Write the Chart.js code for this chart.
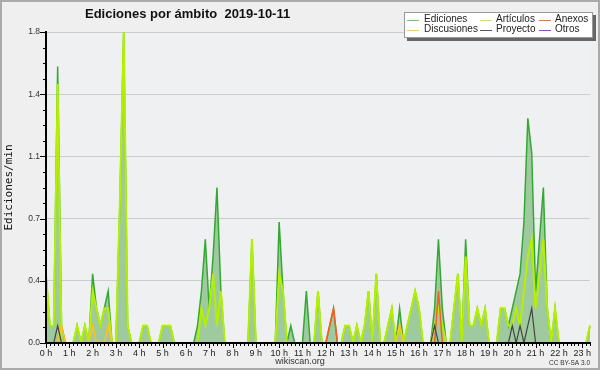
<!DOCTYPE html>
<html>
<head>
<meta charset="utf-8">
<script src="https://cdn.jsdelivr.net/npm/chart.js@4.4.1/dist/chart.umd.min.js"></script>
<style>
  html, body { margin: 0; padding: 0; background: #efefef; }
  #wrap { width: 600px; height: 370px; }
</style>
</head>
<body>
<div id="wrap"><canvas id="chart" width="600" height="370"></canvas></div>
<script>
// ========== DATA ==========
// one slot every 10 minutes, 00:00 .. 23:20
const SLOTS = Array.from({ length: 141 }, (_, i) => i * 10);

// edits per minute (10-minute buckets)
const EDICIONES = [
  0.4, 0.1, 0.1, 1.6, 0.1, 0, 0, 0, 0.1, 0,
  0.1, 0, 0.4, 0.2, 0.1, 0.2, 0.3, 0, 0, 0.8,
  1.8, 0.1, 0, 0, 0, 0.1, 0.1, 0, 0, 0,
  0.1, 0.1, 0.1, 0, 0, 0, 0, 0, 0, 0.1,
  0.3, 0.6, 0.2, 0.5, 0.9, 0.3, 0, 0, 0, 0,
  0, 0, 0, 0.6, 0, 0, 0, 0, 0, 0,
  0.7, 0.3, 0, 0.1, 0, 0, 0, 0.3, 0, 0,
  0.3, 0, 0, 0.1, 0.2, 0, 0, 0.1, 0.1, 0,
  0.1, 0, 0.1, 0.3, 0, 0.4, 0, 0, 0.1, 0.2,
  0, 0.2, 0, 0.1, 0.2, 0.3, 0.2, 0, 0, 0,
  0.2, 0.6, 0.2, 0, 0, 0.2, 0.4, 0, 0.6, 0.1,
  0.1, 0.2, 0.1, 0.2, 0, 0, 0, 0.2, 0.2, 0.1,
  0.2, 0.3, 0.4, 0.7, 1.3, 1.1, 0.3, 0.6, 0.9, 0.2,
  0, 0.2, 0, 0, 0, 0, 0, 0, 0, 0,
  0.1
];

const ARTICULOS = [
  0.4, 0.1, 0.1, 1.5, 0, 0, 0, 0, 0.1, 0,
  0.1, 0, 0.3, 0.2, 0.1, 0.2, 0.2, 0, 0, 0.8,
  1.8, 0.1, 0, 0, 0, 0.1, 0.1, 0, 0, 0,
  0.1, 0.1, 0.1, 0, 0, 0, 0, 0, 0, 0,
  0.2, 0.1, 0.2, 0.4, 0.1, 0.3, 0, 0, 0, 0,
  0, 0, 0, 0.6, 0, 0, 0, 0, 0, 0,
  0.4, 0.3, 0, 0, 0, 0, 0, 0, 0, 0,
  0.3, 0, 0, 0, 0, 0, 0, 0.1, 0.1, 0,
  0.1, 0, 0.1, 0.3, 0, 0.4, 0, 0, 0.1, 0.2,
  0, 0.1, 0, 0.1, 0.2, 0.3, 0.2, 0, 0, 0,
  0.1, 0.2, 0.1, 0, 0, 0.2, 0.4, 0, 0.5, 0.1,
  0.1, 0.2, 0.1, 0.2, 0, 0, 0, 0.2, 0.2, 0.1,
  0.1, 0.2, 0.1, 0.3, 0.5, 0.6, 0.2, 0.4, 0.6, 0.2,
  0, 0.2, 0, 0, 0, 0, 0, 0, 0, 0,
  0.1
];

// sparse series: [slot index, value]
const DISCUSIONES = [[4, 0.1], [12, 0.1], [16, 0.1], [91, 0.1]];
const ANEXOS = [[73, 0.1], [74, 0.2], [101, 0.3]];
const PROYECTO = [[3, 0.1], [100, 0.1], [120, 0.1], [122, 0.1], [124, 0.1], [125, 0.2]];
const OTROS = [];

const Y_MAX = 1.8;
const Y_STEP = 0.09;   // minor step, labels every 4th

const LEGEND = [
  { label: 'Ediciones',   color: '#66cc66' },
  { label: 'Artículos',   color: '#c4f23a' },
  { label: 'Anexos',      color: '#ff6f3a' },
  { label: 'Discusiones', color: '#ffcc33' },
  { label: 'Proyecto',    color: '#555555' },
  { label: 'Otros',       color: '#9a3dff' },
];

// ========== HELPERS ==========

function expand(pairs) {
  const out = SLOTS.map(() => 0);
  pairs.forEach(([i, v]) => { out[i] = v; });
  return out;
}

function lineSet(label, data, color, width, order, extra) {
  return Object.assign({
    label, data,
    borderColor: color,
    borderWidth: width,
    pointRadius: 0,
    tension: 0,
    fill: false,
    order,
  }, extra || {});
}

// ========== PLUGINS ==========

const decorations = {
  id: 'decorations',
  beforeDraw(chart) {
    const { ctx, chartArea: a } = chart;
    ctx.save();
    ctx.fillStyle = '#efefef';
    ctx.fillRect(0, 0, chart.width, chart.height);
    ctx.fillStyle = '#eff0f2';
    ctx.fillRect(a.left, a.top, a.right - a.left, a.bottom - a.top);
    ctx.restore();
  },
  afterDraw(chart) {
    const { ctx, chartArea: a, scales: { x, y } } = chart;
    ctx.save();

    // tick marks
    ctx.strokeStyle = '#000';
    ctx.lineWidth = 1;
    ctx.beginPath();
    x.ticks.forEach((t, i) => {
      const px = Math.round(x.getPixelForTick(i)) + 0.5;
      const len = i % 6 === 0 ? 5 : 3;
      ctx.moveTo(px, a.bottom); ctx.lineTo(px, a.bottom + len);
    });
    y.ticks.forEach((t, i) => {
      const py = Math.round(y.getPixelForTick(i)) + 0.5;
      const len = i % 4 === 0 ? 6 : 3;
      ctx.moveTo(a.left - len, py); ctx.lineTo(a.left, py);
    });
    ctx.stroke();

    // title
    ctx.fillStyle = '#111';
    ctx.font = 'bold 13px "Liberation Sans", Arial, sans-serif';
    ctx.textBaseline = 'middle';
    ctx.textAlign = 'left';
    ctx.fillText('Ediciones por ámbito  2019-10-11', 85, 14);

    // footer
    ctx.fillStyle = '#333';
    ctx.font = '9px "Liberation Sans", Arial, sans-serif';
    ctx.textAlign = 'center';
    ctx.fillText('wikiscan.org', 300, 362);
    ctx.font = '6.5px "Liberation Sans", Arial, sans-serif';
    ctx.textAlign = 'right';
    ctx.fillText('CC BY-SA 3.0', 590, 363);

    // legend box with shadow
    const bx = 404, by = 12, bw = 189, bh = 26;
    ctx.fillStyle = '#666';
    ctx.fillRect(bx + 3, by + 3, bw, bh);
    ctx.fillStyle = '#fff';
    ctx.fillRect(bx, by, bw, bh);
    ctx.strokeStyle = '#999';
    ctx.strokeRect(bx + 0.5, by + 0.5, bw - 1, bh - 1);

    const cols = [[407, 424], [480, 496], [539, 555]];
    const rows = [19.5, 29.5];
    ctx.font = '10px "Liberation Sans", Arial, sans-serif';
    ctx.textAlign = 'left';
    LEGEND.forEach((item, k) => {
      const [sx, tx] = cols[k % 3];
      const ry = rows[Math.floor(k / 3)];
      ctx.strokeStyle = item.color;
      ctx.beginPath();
      ctx.moveTo(sx, Math.round(ry) + 0.5); ctx.lineTo(sx + 12, Math.round(ry) + 0.5);
      ctx.stroke();
      ctx.fillStyle = '#222';
      ctx.fillText(item.label, tx, ry);
    });

    // outer frame
    ctx.strokeStyle = '#aaa';
    ctx.lineWidth = 2;
    ctx.strokeRect(1, 1, chart.width - 2, chart.height - 2);
    ctx.restore();
  }
};

// ========== CHART ==========

new Chart(document.getElementById('chart'), {
  type: 'line',
  data: {
    labels: SLOTS,
    datasets: [
      lineSet('Otros', expand(OTROS), '#9a3dff', 1.2, 0),
      lineSet('Proyecto', expand(PROYECTO), '#444', 1.2, 1),
      lineSet('Anexos', expand(ANEXOS), '#ff5a1f', 1.5, 2),
      lineSet('Discusiones', expand(DISCUSIONES), '#ffc21a', 1.5, 3),
      lineSet('Artículos', ARTICULOS, '#b4f000', 2, 4),
      lineSet('Ediciones', EDICIONES, '#33a833', 1.5, 5, {
        fill: 'origin',
        backgroundColor: '#9fca9f',
      }),
    ]
  },
  options: {
    responsive: false,
    devicePixelRatio: 1,
    animation: false,
    events: [],
    layout: { padding: { left: 0, top: 32, right: 10, bottom: 0 } },
    plugins: {
      legend: { display: false },
      tooltip: { enabled: false },
      title: { display: false },
    },
    scales: {
      x: {
        type: 'category',
        offset: false,
        border: { color: '#000', width: 2, z: 1 },
        grid: { drawOnChartArea: false, drawTicks: false },
        afterFit: s => { s.height = 27; },
        ticks: {
          autoSkip: false,
          maxRotation: 0,
          padding: 5,
          color: '#222',
          font: { family: '"Liberation Sans", Arial, sans-serif', size: 9 },
          callback: (v, i) => (i % 6 === 0 ? (i / 6) + ' h' : ''),
        },
      },
      y: {
        min: 0,
        max: Y_MAX,
        border: { color: '#000', width: 2, z: 1 },
        grid: {
          drawTicks: false,
          color: ctx => (ctx.index % 4 === 0 && ctx.index > 0 ? '#cccccc' : 'rgba(0,0,0,0)'),
        },
        afterFit: s => { s.width = 46; },
        title: {
          display: true,
          text: 'Ediciones/min',
          color: '#111',
          padding: 3,
          font: { family: '"DejaVu Sans Mono", monospace', size: 11 },
        },
        ticks: {
          stepSize: Y_STEP,
          includeBounds: false,
          autoSkip: false,
          padding: 6,
          color: '#333',
          font: { family: '"Liberation Sans", Arial, sans-serif', size: 8.5 },
          callback: (v, i) => (i % 4 === 0 ? v.toFixed(1) : ''),
        },
      },
    },
  },
  plugins: [decorations],
});
</script>
</body>
</html>
